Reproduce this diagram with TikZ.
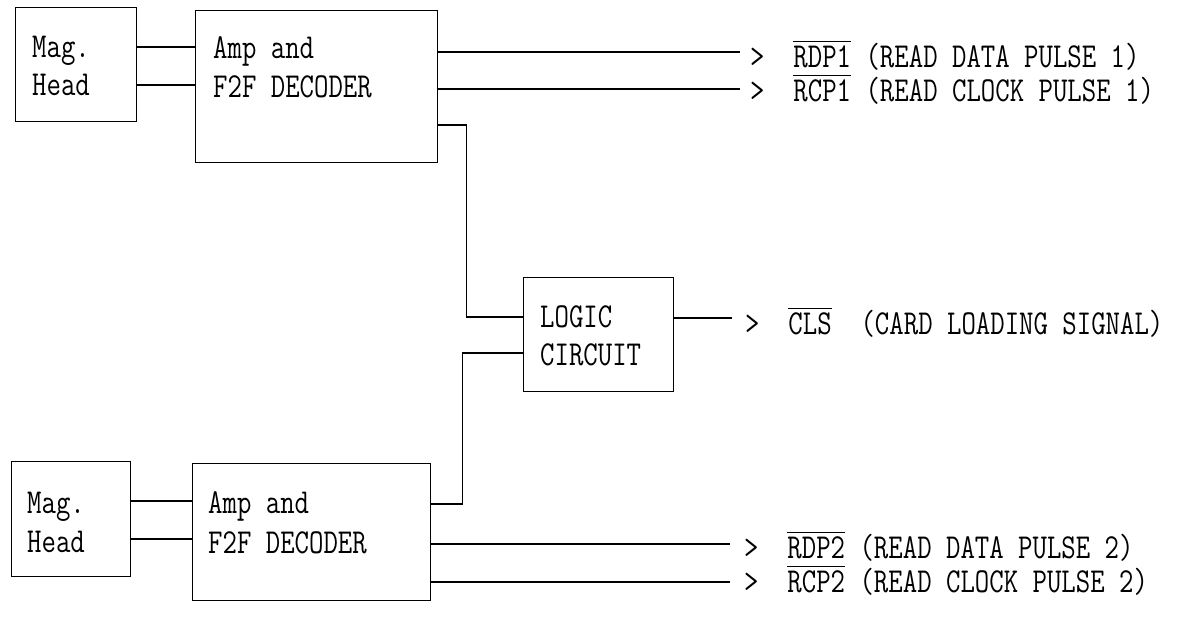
\documentclass[tikz,border=0pt]{standalone}
\usepackage{graphicx}
\newcommand\ovl[1]{\vbox{\hrule height 1.2pt\kern 2.5pt\hbox{#1}}}
\newcommand\T[1]{\scalebox{1}[1.25]{#1}}
\begin{document}
\begin{tikzpicture}[x=1pt,y=-1pt,
  box/.style={draw, line width=1.3pt, inner sep=0pt, anchor=north west},
  txt/.style={anchor=base west, inner sep=0pt, font=\ttfamily\fontsize{28}{30}\selectfont},
  wire/.style={line width=1.3pt}]
\useasboundingbox (0,0) rectangle (1190,619);

% boxes
\node[box, minimum width=121pt, minimum height=114pt] (mag1) at (15,7) {};
\node[box, minimum width=242pt, minimum height=152pt] (amp1) at (195,10) {};
\node[box, minimum width=150pt, minimum height=114pt] (logic) at (523,277) {};
\node[box, minimum width=119pt, minimum height=115pt] (mag2) at (11,461) {};
\node[box, minimum width=238pt, minimum height=137pt] (amp2) at (192,463) {};

% box texts
\node[txt] (mag1a) at (32,57) {\T{Mag.}};
\node[txt] (mag1b) at (32,95) {\T{Head}};
\node[txt] (amp1a) at (213,58) {\T{Amp and}};
\node[txt] (amp1b) at (213,97) {\T{F2F DECODER}};
\node[txt] (logica) at (540,327) {\T{LOGIC}};
\node[txt] (logicb) at (540,365) {\T{CIRCUIT}};
\node[txt] (mag2a) at (27,513) {\T{Mag.}};
\node[txt] (mag2b) at (27,552) {\T{Head}};
\node[txt] (amp2a) at (208,513) {\T{Amp and}};
\node[txt] (amp2b) at (208,553) {\T{F2F DECODER}};

% output labels
\node[txt] (t1) at (750,67) {\T{>\ \ \ovl{RDP1} (READ DATA PULSE 1)}};
\node[txt] (t2) at (750,101) {\T{>\ \ \ovl{RCP1} (READ CLOCK PULSE 1)}};
\node[txt] (t5) at (745,334) {\T{>\ \ \ovl{CLS}\ \ (CARD LOADING SIGNAL)}};
\node[txt] (t3) at (744,558) {\T{>\ \ \ovl{RDP2} (READ DATA PULSE 2)}};
\node[txt] (t4) at (744,592) {\T{>\ \ \ovl{RCP2} (READ CLOCK PULSE 2)}};

% free ends of output lines
\coordinate (o1) at (740,52);
\coordinate (o2) at (740,89);
\coordinate (o5) at (732,318);
\coordinate (o3) at (730,544);
\coordinate (o4) at (730,582);

% head to amplifier
\draw[wire] ([yshift=-40pt]mag1.north east) -- ([yshift=-40pt]mag1.north east -| amp1.west);
\draw[wire] ([yshift=-78pt]mag1.north east) -- ([yshift=-78pt]mag1.north east -| amp1.west);
\draw[wire] ([yshift=-40pt]mag2.north east) -- ([yshift=-40pt]mag2.north east -| amp2.west);
\draw[wire] ([yshift=-78pt]mag2.north east) -- ([yshift=-78pt]mag2.north east -| amp2.west);

% outputs
\draw[wire] (o1 -| amp1.east) -- (o1);
\draw[wire] (o2 -| amp1.east) -- (o2);
\draw[wire] (o3 -| amp2.east) -- (o3);
\draw[wire] (o4 -| amp2.east) -- (o4);
\draw[wire] (o5 -| logic.east) -- (o5);

% amplifiers to logic
\draw[wire] ([yshift=-115pt]amp1.north east) -- ++(28,0) |- ([yshift=-40pt]logic.north west);
\draw[wire] ([yshift=-41pt]amp2.north east) -- ++(31,0) |- ([yshift=-76pt]logic.north west);
\end{tikzpicture}
\end{document}
